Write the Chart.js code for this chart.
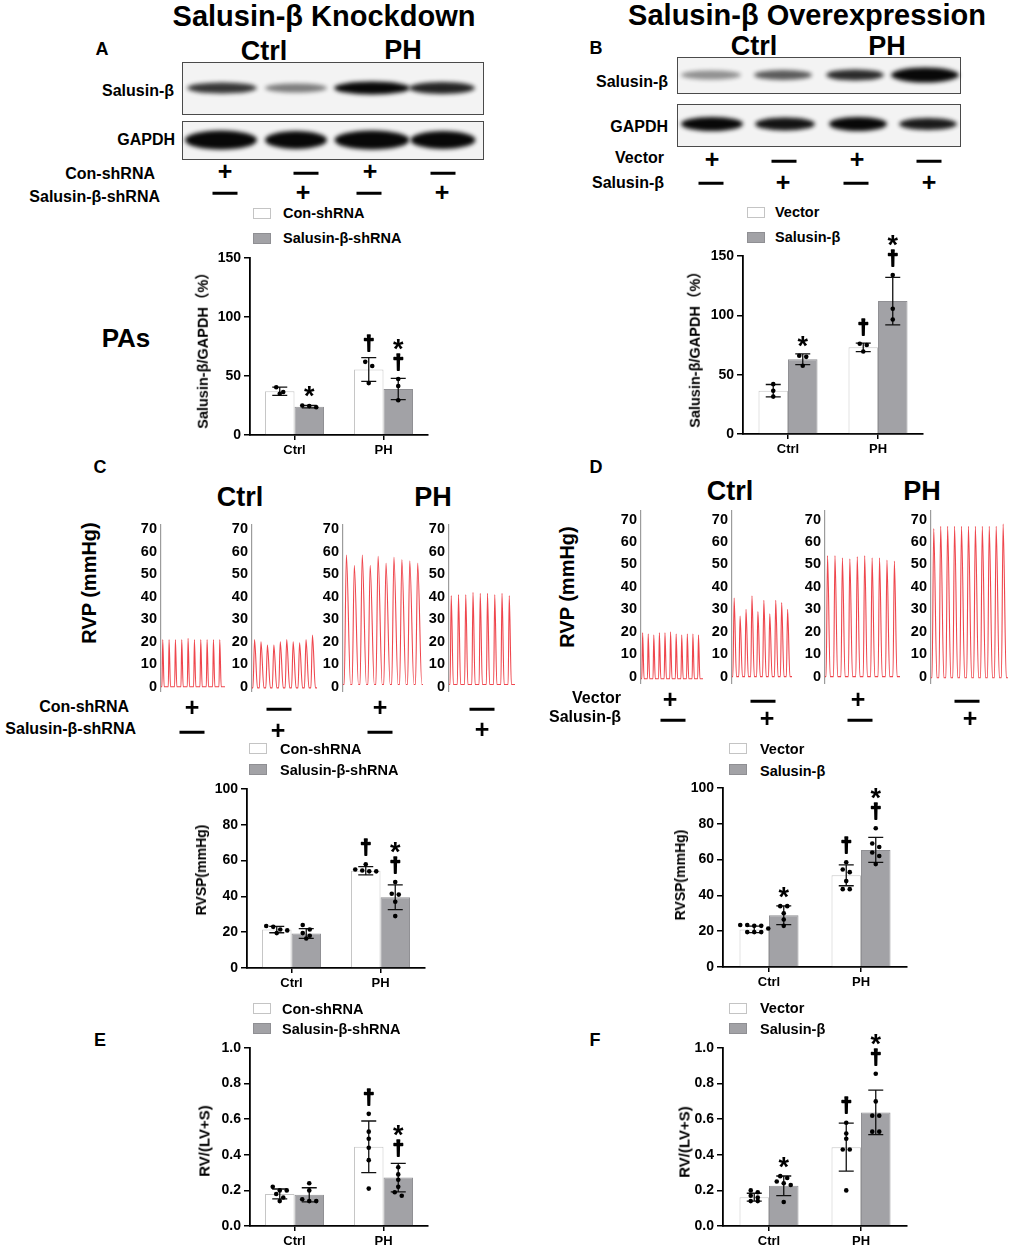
<!DOCTYPE html>
<html>
<head>
<meta charset="utf-8">
<script src="https://cdn.jsdelivr.net/npm/chart.js"></script>
<style>
  body { margin: 0; background: #fff; }
  #fig { position: relative; width: 1010px; height: 1250px; overflow: hidden; background: #fff;
         font-family: "Liberation Sans", Arial, "Noto Sans CJK SC", sans-serif; font-weight: bold; color: #000; }
  .t { position: absolute; white-space: nowrap; line-height: 1; }
  .dash { position: absolute; width: 25px; height: 2.5px; background: #000; transform: translate(-50%, -50%); }
  .blot { position: absolute; border: 1.5px solid #4a4a4a; background: #f3f3f3; box-sizing: border-box; }
  .band { position: absolute; border-radius: 50%; background: #080808; filter: blur(2px); transform: translate(-50%, -50%); }
  .sw { position: absolute; width: 18px; height: 11px; box-sizing: border-box; }
  .cw { position: absolute; }
</style>
</head>
<body>
<div id="fig"></div>
<script>
  const FONT = '"Liberation Sans", Arial, "Noto Sans CJK SC", sans-serif';
  Chart.defaults.font.family = FONT;

  const GROUPS = ['Ctrl', 'PH'];

  // A: Salusin-β/GAPDH (%), knockdown
  const aConMean = [37, 55.5], aConSd = [3.5, 10], aConPts = [[40.5, 36.5, 35], [62, 58.5, 44]];
  const aShMean = [24, 39], aShSd = [1, 9], aShPts = [[23.5, 25, 24.5], [47.5, 41.5, 29.5]];
  const aConMarks = ['', '†'], aShMarks = ['*', '*†'];

  // B: Salusin-β/GAPDH (%), overexpression
  const bVecMean = [36.5, 73], bVecSd = [5.2, 3.5], bVecPts = [[42, 36.5, 31.5], [76, 75, 69.5]];
  const bSalMean = [63, 112], bSalSd = [4.5, 20], bSalPts = [[66, 65, 57.5], [134, 105.5, 96.5]];
  const bVecMarks = ['', '†'], bSalMarks = ['*', '*†'];

  // C: RVSP (mmHg), knockdown
  const cConMean = [21.5, 54.3], cConSd = [1.8, 2.3], cConPts = [[23.5, 23, 21.5, 21, 19.5], [58, 55, 54.5, 54, 54]];
  const cShMean = [19.3, 39.5], cShSd = [2.7, 6.9], cShPts = [[24, 21.5, 19.5, 18, 16.5], [48, 41.5, 41, 37, 29]];
  const cConMarks = ['', '†'], cShMarks = ['', '*†'];

  // D: RVSP (mmHg), overexpression
  const dVecMean = [21, 51.2], dVecSd = [1.8, 5.8], dVecPts = [[23.5, 23.5, 23, 23, 19.5, 19.5, 19.5, 21.5], [58.5, 54.5, 53, 48, 43.5, 43.5]];
  const dSalMean = [28.9, 65.4], dSalSd = [5.2, 7], dSalPts = [[34, 34, 30, 26.5, 23], [77.5, 69, 67, 64, 62, 57.5]];
  const dVecMarks = ['', '†'], dSalMarks = ['*', '*†'];

  // E: RV/(LV+S), knockdown
  const eConMean = [0.18, 0.445], eConSd = [0.028, 0.145], eConPts = [[0.22, 0.2, 0.2, 0.18, 0.16, 0.14], [0.63, 0.53, 0.49, 0.44, 0.37, 0.21]];
  const eShMean = [0.175, 0.272], eShSd = [0.04, 0.08], eShPts = [[0.24, 0.2, 0.15, 0.14, 0.14], [0.33, 0.29, 0.26, 0.22, 0.19, 0.17]];
  const eConMarks = ['', '†'], eShMarks = ['', '*†'];

  // F: RV/(LV+S), overexpression
  const fVecMean = [0.162, 0.443], fVecSd = [0.022, 0.135], fVecPts = [[0.2, 0.19, 0.17, 0.16, 0.14, 0.14], [0.58, 0.52, 0.49, 0.43, 0.43, 0.2]];
  const fSalMean = [0.226, 0.638], fSalSd = [0.055, 0.125], fSalPts = [[0.28, 0.27, 0.25, 0.24, 0.23, 0.135], [0.855, 0.7, 0.62, 0.62, 0.53, 0.53]];
  const fVecMarks = ['', '†'], fSalMarks = ['*', '*†'];

  // RVP traces: systolic peak of each beat and the diastolic floor
  const RVP_TICKS = [0, 10, 20, 30, 40, 50, 60, 70];
  const cPeaks = [
    [21, 21, 21, 21, 21.5, 21, 21, 21, 21, 21],
    [21, 20, 18.5, 18.5, 20, 21, 20, 19.5, 21, 23],
    [58.5, 54, 58.5, 54, 58, 55, 57.5, 56.5, 56, 55],
    [40.5, 41, 41, 42, 41.5, 41.5, 41, 41.5, 40.5]
  ];
  const cFloor = [0, -0.5, 1, 1];
  const dPeaks = [
    [19.5, 19, 18.5, 19.5, 19.5, 20, 19, 18.5, 19, 19, 18.5],
    [35, 27, 30, 36, 29, 34, 28, 34, 33, 30],
    [54, 54, 53, 52.5, 53.5, 54, 53, 53, 52, 51.5],
    [66, 67, 67, 67, 67, 67, 67, 67, 67, 67, 68]
  ];
  const dFloor = [-1, 0, 0, -0.5];

  // western blot band intensities (0..1) per lane
  const blotASal = [0.8, 0.5, 1, 0.88], blotAGapdh = [1, 1, 1, 1];
  const blotBSal = [0.42, 0.65, 0.85, 1], blotBGapdh = [1, 0.95, 1, 0.92];

  const fig = document.getElementById('fig');

  function txt(x, y, s, size, align = 'c', rot = false) {
    const d = document.createElement('div');
    d.className = 't';
    d.textContent = s;
    d.style.fontSize = size + 'px';
    d.style.left = x + 'px';
    d.style.top = y + 'px';
    const tx = align === 'c' ? '-50%' : align === 'r' ? '-100%' : '0';
    d.style.transform = rot ? 'translate(-50%,-50%) rotate(-90deg)' : `translate(${tx},-50%)`;
    fig.appendChild(d);
  }
  function dash(x, y) {
    const d = document.createElement('div');
    d.className = 'dash';
    d.style.left = x + 'px'; d.style.top = y + 'px';
    fig.appendChild(d);
  }
  function signRow(items, y) {
    items.forEach(([x, s, dy]) => s === '+' ? txt(x, y + (dy || 0), '+', 25) : dash(x, y + (dy || 0)));
  }
  function blot(x, y, w, h) {
    const d = document.createElement('div');
    d.className = 'blot';
    Object.assign(d.style, { left: x + 'px', top: y + 'px', width: w + 'px', height: h + 'px' });
    fig.appendChild(d);
  }
  function bands(lanes, cy, widths, heights, alpha) {
    lanes.forEach((cx, i) => {
      const d = document.createElement('div');
      d.className = 'band';
      Object.assign(d.style, { left: cx + 'px', top: cy + 'px', width: widths[i] + 'px', height: heights[i] + 'px', opacity: alpha[i] });
      fig.appendChild(d);
    });
  }
  function legend(bx, by1, by2, tx, ty1, ty2, labels) {
    [[by1, '#ffffff', '#c4c4c4'], [by2, '#a2a2a6', '#8f8f93']].forEach(([by, fill, line]) => {
      const s = document.createElement('div');
      s.className = 'sw';
      Object.assign(s.style, { left: bx + 'px', top: by + 'px', background: fill, border: '1px solid ' + line });
      fig.appendChild(s);
    });
    txt(tx, ty1, labels[0], 14.5, 'l');
    txt(tx, ty2, labels[1], 14.5, 'l');
  }

  // error bars, dots and significance marks drawn on top of each bar
  const overlay = {
    id: 'overlay',
    afterDatasetsDraw(chart) {
      const ctx = chart.ctx, y = chart.scales.y;
      chart.data.datasets.forEach((ds, di) => {
        chart.getDatasetMeta(di).data.forEach((bar, i) => {
          const cx = bar.x, m = ds.data[i], sd = ds.sd[i];
          const yHi = y.getPixelForValue(m + sd), yLo = y.getPixelForValue(m - sd);
          ctx.save();
          ctx.strokeStyle = '#111';
          ctx.lineWidth = 1.3;
          ctx.beginPath();
          ctx.moveTo(cx, yLo); ctx.lineTo(cx, yHi);
          ctx.moveTo(cx - 7.5, yHi); ctx.lineTo(cx + 7.5, yHi);
          ctx.moveTo(cx - 7.5, yLo); ctx.lineTo(cx + 7.5, yLo);
          ctx.stroke();

          const py = ds.pts[i].map(v => y.getPixelForValue(v)).sort((a, b) => a - b);
          const rows = [];
          py.forEach(p => {
            const r = rows[rows.length - 1];
            if (r && p - r[0] < 5) r.push(p); else rows.push([p]);
          });
          ctx.fillStyle = '#000';
          rows.forEach(r => r.forEach((p, k) => {
            const dx = (k - (r.length - 1) / 2) * 7;
            ctx.beginPath();
            ctx.arc(cx + dx, p, 2.3, 0, 2 * Math.PI);
            ctx.fill();
          }));

          let base = Math.min(yHi, py[0] - 2.3) - 6;
          ctx.textAlign = 'center';
          ctx.textBaseline = 'alphabetic';
          ctx.strokeStyle = '#000';
          ctx.lineJoin = 'round';
          [...ds.marks[i]].reverse().forEach(ch => {
            const dagger = ch !== '*';
            ctx.font = `bold ${dagger ? 20 : 27}px ${FONT}`;
            const mt = ctx.measureText(ch);
            const by = base - mt.actualBoundingBoxDescent;
            ctx.fillText(ch, cx, by);
            if (dagger) { ctx.lineWidth = 1.6; ctx.strokeText(ch, cx, by); }
            base = base - mt.actualBoundingBoxDescent - mt.actualBoundingBoxAscent - 4;
          });
          ctx.restore();
        });
      });
    }
  };

  function barChart(L, series) {
    const yw = 45, padT = 40, padR = 6, xh = 30;
    const plotH = L.y0 - L.yTop;
    const W = yw + 2 * L.catW + padR, H = padT + plotH + xh;
    const wrap = document.createElement('div');
    wrap.className = 'cw';
    Object.assign(wrap.style, { left: (L.x - yw) + 'px', top: (L.yTop - padT) + 'px', width: W + 'px', height: H + 'px' });
    const cv = document.createElement('canvas');
    cv.width = W; cv.height = H;
    wrap.appendChild(cv);
    fig.appendChild(wrap);
    const colors = [['#ffffff', '#c6c6c6'], ['#a2a2a6', '#909094']];
    new Chart(cv, {
      type: 'bar',
      data: {
        labels: GROUPS,
        datasets: series.map((s, k) => ({
          data: s.mean, sd: s.sd, pts: s.pts, marks: s.marks,
          backgroundColor: colors[k][0], borderColor: colors[k][1], borderWidth: 1,
          categoryPercentage: 59 / L.catW, barPercentage: 1
        }))
      },
      options: {
        responsive: false, animation: false,
        layout: { padding: { top: padT, right: padR, left: 0, bottom: 0 } },
        plugins: { legend: { display: false }, tooltip: { enabled: false } },
        scales: {
          x: {
            afterFit: s => { s.height = xh; },
            grid: { drawOnChartArea: false, offset: false, tickLength: 5, color: '#000', lineWidth: 1.5 },
            border: { color: '#000', width: 1.8 },
            ticks: { color: '#000', padding: 3, font: { size: 13, weight: 'bold' } }
          },
          y: {
            min: 0, max: L.max,
            afterFit: s => { s.width = yw; },
            grid: { drawOnChartArea: false, tickLength: 6, color: '#000', lineWidth: 1.5 },
            border: { color: '#000', width: 1.8 },
            ticks: { stepSize: L.step, color: '#000', padding: 3, font: { size: 14, weight: 'bold' },
                     callback: v => L.dec ? v.toFixed(L.dec) : v }
          }
        }
      },
      plugins: [overlay]
    });
  }

  function wave(peaks, floor, duty) {
    const pts = [{ x: 0, y: floor }];
    peaks.forEach((p, i) => {
      pts.push({ x: i + 0.15, y: floor });
      pts.push({ x: i + 0.15 + duty * 0.35, y: p });
      pts.push({ x: i + 0.15 + duty, y: floor });
    });
    pts.push({ x: peaks.length + 0.1, y: floor });
    return pts;
  }

  function traceChart(ax, end, y0, pxPerUnit, yMin, yMax, peaks, floor, duty) {
    const yw = 30, padT = 10, padB = 10;
    const h = (yMax - yMin) * pxPerUnit;
    const top = y0 - yMax * pxPerUnit;
    const W = yw + end - ax, H = padT + h + padB;
    const wrap = document.createElement('div');
    wrap.className = 'cw';
    Object.assign(wrap.style, { left: (ax - yw) + 'px', top: (top - padT) + 'px', width: W + 'px', height: H + 'px' });
    const cv = document.createElement('canvas');
    cv.width = W; cv.height = H;
    wrap.appendChild(cv);
    fig.appendChild(wrap);
    new Chart(cv, {
      type: 'line',
      data: { datasets: [{ data: wave(peaks, floor, duty), borderColor: 'rgba(236,38,46,0.85)', borderWidth: 1.1,
                           pointRadius: 0, cubicInterpolationMode: 'monotone' }] },
      options: {
        responsive: false, animation: false,
        layout: { padding: { top: padT, bottom: padB, left: 0, right: 0 } },
        plugins: { legend: { display: false }, tooltip: { enabled: false } },
        scales: {
          x: { type: 'linear', display: false, min: 0, max: peaks.length + 0.1 },
          y: {
            min: yMin, max: yMax,
            afterBuildTicks: s => { s.ticks = RVP_TICKS.map(v => ({ value: v })); },
            afterFit: s => { s.width = yw; },
            grid: { display: false, drawTicks: false },
            border: { display: true, color: '#9c9c9c', width: 1.2 },
            ticks: { color: '#000', padding: 4, font: { size: 14.5, weight: 'bold' } }
          }
        }
      }
    });
  }

  // ---------- headings ----------
  txt(324, 16, 'Salusin-β Knockdown', 29);
  txt(807, 15, 'Salusin-β Overexpression', 29);
  txt(102, 49, 'A', 18);
  txt(596, 48, 'B', 18);
  txt(264, 51, 'Ctrl', 27);
  txt(403, 50, 'PH', 27);
  txt(754, 46, 'Ctrl', 27);
  txt(887, 46, 'PH', 27);
  txt(126, 338, 'PAs', 26);

  // ---------- blots ----------
  blot(182, 62, 302, 53);
  blot(182, 121, 302, 39);
  bands([222, 296, 372, 442], 88, [70, 62, 76, 66], [11, 9, 13, 12], blotASal);
  bands([221, 296, 372, 443], 140, [72, 62, 75, 65], [19, 18, 19, 18], blotAGapdh);
  txt(174, 91, 'Salusin-β', 16, 'r');
  txt(175, 140, 'GAPDH', 16, 'r');

  blot(677, 57, 284, 37);
  blot(677, 104, 284, 43);
  bands([711, 783, 855, 925], 75, [60, 58, 58, 68], [9, 10, 11, 15], blotBSal);
  bands([712, 785, 858, 928], 124, [62, 60, 58, 58], [14, 13, 14, 12], blotBGapdh);
  txt(668, 82, 'Salusin-β', 16, 'r');
  txt(668, 127, 'GAPDH', 16, 'r');

  txt(155, 174, 'Con-shRNA', 16, 'r');
  txt(160, 197, 'Salusin-β-shRNA', 16, 'r');
  signRow([[225, '+', -2], [306, '-'], [370, '+', -2], [443, '-']], 173);
  signRow([[225, '-'], [303, '+', -1], [369, '-'], [442, '+', -1]], 193);

  txt(664, 158, 'Vector', 16, 'r');
  txt(664, 183, 'Salusin-β', 16, 'r');
  signRow([[712, '+', -2], [784, '-'], [857, '+', -2], [929, '-']], 161);
  signRow([[711, '-'], [783, '+', -1], [856, '-'], [929, '+', -1]], 183);

  // ---------- A / B bars ----------
  legend(253, 208, 233, 283, 213, 238, ['Con-shRNA', 'Salusin-β-shRNA']);
  legend(747, 207, 232, 775, 212, 237, ['Vector', 'Salusin-β']);
  barChart({ x: 250, y0: 435, yTop: 258, catW: 89, max: 150, step: 50 },
    [{ mean: aConMean, sd: aConSd, pts: aConPts, marks: aConMarks },
     { mean: aShMean, sd: aShSd, pts: aShPts, marks: aShMarks }]);
  barChart({ x: 743, y0: 434, yTop: 256, catW: 90, max: 150, step: 50 },
    [{ mean: bVecMean, sd: bVecSd, pts: bVecPts, marks: bVecMarks },
     { mean: bSalMean, sd: bSalSd, pts: bSalPts, marks: bSalMarks }]);
  txt(203, 347, 'Salusin-β/GAPDH（%）', 14.5, 'c', true);
  txt(695, 346, 'Salusin-β/GAPDH（%）', 14.5, 'c', true);

  // ---------- C / D traces ----------
  txt(100, 467, 'C', 18);
  txt(596, 467, 'D', 18);
  txt(240, 497, 'Ctrl', 27);
  txt(433, 497, 'PH', 27);
  txt(730, 491, 'Ctrl', 27);
  txt(922, 491, 'PH', 27);
  txt(89, 583, 'RVP  (mmHg)', 20, 'c', true);
  txt(567, 587, 'RVP  (mmHg)', 20, 'c', true);

  const cSpan = [[161, 225], [252, 317], [343, 423], [449, 515]];
  const cDuty = [0.35, 0.7, 0.8, 0.45];
  cPeaks.forEach((p, k) => traceChart(cSpan[k][0], cSpan[k][1], 690, 2.33, -2, 72, p, cFloor[k], cDuty[k]));
  const dSpan = [[641, 703], [732, 792], [825, 900], [931, 1008]];
  const dDuty = [0.4, 0.6, 0.55, 0.7];
  dPeaks.forEach((p, k) => traceChart(dSpan[k][0], dSpan[k][1], 679, 2.314, -3, 74, p, dFloor[k], dDuty[k]));

  txt(129, 707, 'Con-shRNA', 16, 'r');
  txt(136, 729, 'Salusin-β-shRNA', 16, 'r');
  signRow([[192, '+', -2], [279, '-'], [380, '+', -2], [482, '-']], 709);
  signRow([[192, '-'], [278, '+', -2], [380, '-'], [482, '+', -3]], 732);

  txt(621, 698, 'Vector', 16, 'r');
  txt(621, 717, 'Salusin-β', 16, 'r');
  signRow([[670, '+', -2], [763, '-'], [858, '+', -2], [967, '-']], 701);
  signRow([[673, '-'], [767, '+', -2], [860, '-'], [970, '+', -2]], 720);

  // ---------- C / D bars ----------
  legend(249, 743, 764, 280, 749, 770, ['Con-shRNA', 'Salusin-β-shRNA']);
  legend(729, 743, 764, 760, 749, 771, ['Vector', 'Salusin-β']);
  barChart({ x: 247, y0: 968, yTop: 789, catW: 89, max: 100, step: 20 },
    [{ mean: cConMean, sd: cConSd, pts: cConPts, marks: cConMarks },
     { mean: cShMean, sd: cShSd, pts: cShPts, marks: cShMarks }]);
  barChart({ x: 723, y0: 967, yTop: 788, catW: 92, max: 100, step: 20 },
    [{ mean: dVecMean, sd: dVecSd, pts: dVecPts, marks: dVecMarks },
     { mean: dSalMean, sd: dSalSd, pts: dSalPts, marks: dSalMarks }]);
  txt(201, 870, 'RVSP(mmHg)', 14, 'c', true);
  txt(680, 875, 'RVSP(mmHg)', 14, 'c', true);

  // ---------- E / F bars ----------
  txt(100, 1040, 'E', 18);
  txt(595, 1040, 'F', 18);
  legend(253, 1003, 1023, 282, 1009, 1029, ['Con-shRNA', 'Salusin-β-shRNA']);
  legend(729, 1003, 1023, 760, 1008, 1029, ['Vector', 'Salusin-β']);
  barChart({ x: 250, y0: 1226, yTop: 1048, catW: 89, max: 1, step: 0.2, dec: 1 },
    [{ mean: eConMean, sd: eConSd, pts: eConPts, marks: eConMarks },
     { mean: eShMean, sd: eShSd, pts: eShPts, marks: eShMarks }]);
  barChart({ x: 723, y0: 1226, yTop: 1048, catW: 92, max: 1, step: 0.2, dec: 1 },
    [{ mean: fVecMean, sd: fVecSd, pts: fVecPts, marks: fVecMarks },
     { mean: fSalMean, sd: fSalSd, pts: fSalPts, marks: fSalMarks }]);
  txt(204, 1141, 'RV/(LV+S)', 15, 'c', true);
  txt(684, 1142, 'RV/(LV+S)', 15, 'c', true);
</script>
</body>
</html>
